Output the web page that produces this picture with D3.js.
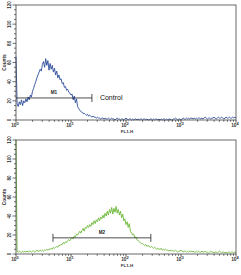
<!DOCTYPE html>
<html><head><meta charset="utf-8">
<script src="https://cdn.jsdelivr.net/npm/d3@7"></script>
<style>body{margin:0;background:#fff}svg{display:block}text{font-family:"Liberation Sans",Arial,sans-serif}</style>
</head><body>
<svg id="c" width="241" height="275"></svg>
<script>
// Fluorescence channels: 201 points spread evenly over 4 log decades (10^0 .. 10^4)
const controlCounts = [66,17,14,19,16,21,15,20,18,22,19,24,21,26,24,30,33,37,40,44,47,50,53,51,58,61,55,64,57,62,52,59,53,57,50,54,47,51,44,47,42,43,38,39,34,35,31,32,29,28,26,27,21,25,18,22,14,12,10,9,8,7,7,6,5,6,4,5,4,3,4,3,3,2,3,2,
2,1,2,2,1,2,1,1,2,1, 1,2,1,1,0,1,2,1,1,0, 1,1,0,1,2,1,0,1,1,0, 1,0,1,1,0,1,0,1,1,0, 1,1,0,1,0,0,1,1,0,1, 0,1,1,0,1,0,1,0,1,1, 0,1,0,1,1,0,0,1,1,2, 1,0,1,1,0,1,2,1,1,2, 1,2,1,2,2,1,2,1,2,1, 2,2,1,2,1,2,3,2,1,2, 2,1,2,2,3,2,1,2,3,2, 2,3,2,1,2,3,2,2,3,2, 2,3,2,3,2];
const sampleCounts = [130,3,2,3,2,2,3,2,3,2,3,2,3,3,2,3,3,2,3,4,3,3,4,3,4,3,4,4,5,4,5,5,6,5,7,6,7,8,7,9,9,10,10,12,11,13,12,14,15,14,16,17,16,19,18,21,20,22,24,22,25,27,24,28,27,30,28,31,29,33,31,35,32,36,34,38,35,39,37,41,38,43,40,45,41,47,43,49,42,48,44,50,43,47,41,45,38,42,35,37,31,34,28,32,24,22,20,21,17,18,15,14,13,12,11,11,10,9,10,8,9,8,7,8,7,6,7,6,5,6,5,5,6,4,5,4,5,4,4,3,4,
3,4,3,3,4,3,2,3,3,4, 3,2,3,3,2,3,2,3,3,2, 3,2,2,3,2,3,2,2,3,2, 2,3,2,2,1,2,3,2,2,1, 2,2,1,2,3,2,1,2,2,1, 2,1,2,2,1,2,2,1,2,2];
const xDomain = [1, 10000];
const yDomain = [0, 120];
const yTicks = [0,20,40,60,80,100,120];
const xDecades = [0,1,2,3,4];
const xLabel = "FL1-H";
const yLabel = "Counts";
const m1Range = [1, 24], m1Level = 23, m1Label = "M1";
const m2Range = [4.7, 283], m2Level = 17, m2Label = "M2";
const controlText = "Control";

const svg = d3.select("#c");
const font = "Liberation Sans, Arial, sans-serif";

function chan(n){ return (_, i) => Math.pow(10, 4 * i / (n - 1)); }

function panel(top, bottom, counts, color, mRange, mLevel, mLabel, leftTick, note){
  const x = d3.scaleLog().domain(xDomain).range([16, 236]);
  const y = d3.scaleLinear().domain(yDomain).range([bottom, top]).clamp(true);
  const g = svg.append("g");
  // data line
  const pos = chan(counts.length);
  const line = d3.line().x((d,i)=>x(pos(d,i))).y(d=>y(d));
  g.append("path").datum(counts).attr("d", line).attr("fill","none")
    .attr("stroke", color).attr("stroke-width", 0.9);
  // frame
  g.append("rect").attr("x", 16).attr("y", top).attr("width", 220).attr("height", bottom-top)
    .attr("fill","none").attr("stroke","#444").attr("stroke-width",0.8);
  // y axis ticks
  const yMinor = d3.range(0, 121, 5);
  g.selectAll(".ym").data(yMinor).join("line")
    .attr("x1", d => d%20===0 ? 12.5 : 14).attr("x2", 16)
    .attr("y1", d=>y(d)).attr("y2", d=>y(d)).attr("stroke","#333").attr("stroke-width",0.7);
  g.selectAll(".yl").data(yTicks).join("text")
    .attr("transform", d=>`translate(11,${y(d)}) rotate(-90)`)
    .attr("text-anchor","middle").attr("font-size",4.6).attr("font-weight","bold").attr("fill","#333")
    .text(d=>d);
  g.append("text").attr("transform", `translate(5.5,${(top+bottom)/2}) rotate(-90)`)
    .attr("text-anchor","middle").attr("font-size",4.8).attr("font-weight","bold").attr("fill","#333").text(yLabel);
  // x axis ticks
  const minors = [];
  xDecades.forEach(dec => { if (dec < 4) for (let k=2;k<10;k++) minors.push(k*Math.pow(10,dec)); });
  g.selectAll(".xm").data(minors).join("line")
    .attr("x1", d=>x(d)).attr("x2", d=>x(d)).attr("y1", bottom).attr("y2", bottom+1.8)
    .attr("stroke","#333").attr("stroke-width",0.7);
  g.selectAll(".xM").data(xDecades).join("line")
    .attr("x1", d=>x(Math.pow(10,d))).attr("x2", d=>x(Math.pow(10,d))).attr("y1", bottom).attr("y2", bottom+2.8)
    .attr("stroke","#333").attr("stroke-width",0.8);
  const xl = g.selectAll(".xl").data(xDecades).join("text")
    .attr("x", d=>x(Math.pow(10,d)) - 1).attr("y", bottom+7)
    .attr("text-anchor","middle").attr("font-size",4.8).attr("font-weight","bold").attr("fill","#333");
  xl.append("tspan").text("10");
  xl.append("tspan").attr("dy",-2).attr("font-size",4).text(d=>d);
  g.append("text").attr("x", x(100)+1).attr("y", bottom+13).attr("text-anchor","middle")
    .attr("font-size",4.4).attr("font-weight","bold").attr("fill","#333").text(xLabel);
  // marker
  const my = y(mLevel);
  g.append("line").attr("x1", x(mRange[0])).attr("x2", x(mRange[1])).attr("y1", my).attr("y2", my)
    .attr("stroke","#222").attr("stroke-width",0.8);
  const ends = leftTick ? mRange : [mRange[1]];
  g.selectAll(".me").data(ends).join("line")
    .attr("x1", d=>x(d)).attr("x2", d=>x(d)).attr("y1", my-4).attr("y2", my+4)
    .attr("stroke","#222").attr("stroke-width",0.8);
  g.append("text").attr("x", x(Math.sqrt(mRange[0]*mRange[1]))).attr("y", my-4)
    .attr("text-anchor","middle").attr("font-size",4.6).attr("font-weight","bold").attr("fill","#222").text(mLabel);
  if (note) {
    g.append("text").attr("x", x(mRange[1]) + 8).attr("y", my + 2.5)
      .attr("font-size",7).attr("fill","#111").text(note);
  }
}

panel(5, 120, controlCounts, "#2b4c9b", m1Range, m1Level, m1Label, false, controlText);
panel(140, 254, sampleCounts, "#6cb83a", m2Range, m2Level, m2Label, true, null);
</script>
</body></html>
